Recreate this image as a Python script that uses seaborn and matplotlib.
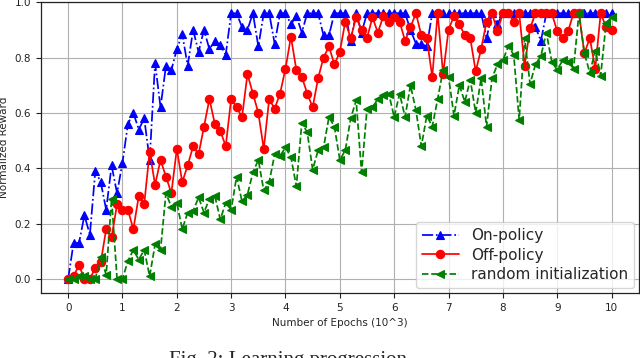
import numpy as np
import pandas as pd
import matplotlib
matplotlib.use("Agg")
import matplotlib.pyplot as plt
import seaborn as sns

# epochs (x 10^3), one point every 100 epochs
epochs = np.round(np.arange(0, 101) * 0.1, 1)

on_policy = [
    0.00, 0.13, 0.13, 0.23, 0.16, 0.39, 0.35, 0.25, 0.41, 0.31,
    0.42, 0.56, 0.60, 0.54, 0.58, 0.43, 0.78, 0.62, 0.77, 0.755,
    0.83, 0.885, 0.77, 0.90, 0.82, 0.90, 0.83, 0.86, 0.845, 0.81,
    0.96, 0.96, 0.91, 0.90, 0.96, 0.84, 0.96, 0.96, 0.85, 0.96,
    0.96, 0.92, 0.95, 0.89, 0.96, 0.96, 0.96, 0.88, 0.88, 0.96,
    0.96, 0.96, 0.86, 0.96, 0.89, 0.96, 0.96, 0.96, 0.96, 0.96,
    0.96, 0.96, 0.96, 0.90, 0.85, 0.85, 0.84, 0.96, 0.96, 0.96,
    0.96, 0.96, 0.96, 0.96, 0.96, 0.96, 0.96, 0.87, 0.96, 0.92,
    0.96, 0.96, 0.96, 0.96, 0.96, 0.96, 0.91, 0.86, 0.96, 0.96,
    0.96, 0.96, 0.96, 0.96, 0.96, 0.96, 0.96, 0.96, 0.96, 0.96,
    0.96,
]

off_policy = [
    0.00, 0.01, 0.05, 0.00, 0.00, 0.04, 0.06, 0.18, 0.15, 0.27,
    0.25, 0.25, 0.18, 0.30, 0.27, 0.46, 0.34, 0.43, 0.37, 0.31,
    0.47, 0.35, 0.41, 0.48, 0.45, 0.55, 0.65, 0.56, 0.535, 0.48,
    0.65, 0.62, 0.585, 0.74, 0.67, 0.60, 0.47, 0.65, 0.615, 0.67,
    0.76, 0.875, 0.755, 0.73, 0.67, 0.62, 0.725, 0.80, 0.84, 0.775,
    0.82, 0.93, 0.87, 0.945, 0.90, 0.87, 0.945, 0.89, 0.95, 0.93,
    0.945, 0.93, 0.86, 0.91, 0.96, 0.88, 0.87, 0.73, 0.96, 0.74,
    0.90, 0.95, 0.92, 0.88, 0.87, 0.75, 0.83, 0.93, 0.96, 0.895,
    0.96, 0.96, 0.93, 0.96, 0.77, 0.905, 0.96, 0.96, 0.96, 0.96,
    0.895, 0.87, 0.895, 0.96, 0.96, 0.815, 0.87, 0.76, 0.96, 0.91,
    0.90,
]

random_init = [
    0.00, 0.00, 0.01, 0.01, 0.00, 0.00, 0.08, 0.015, 0.29, 0.00,
    0.00, 0.065, 0.105, 0.07, 0.105, 0.01, 0.125, 0.105, 0.31, 0.26,
    0.275, 0.18, 0.24, 0.245, 0.295, 0.24, 0.29, 0.30, 0.215, 0.275,
    0.25, 0.37, 0.28, 0.305, 0.385, 0.43, 0.32, 0.35, 0.45, 0.445,
    0.475, 0.44, 0.335, 0.565, 0.53, 0.395, 0.465, 0.475, 0.585, 0.55,
    0.43, 0.465, 0.58, 0.645, 0.385, 0.615, 0.62, 0.65, 0.665, 0.67,
    0.585, 0.67, 0.585, 0.70, 0.61, 0.48, 0.59, 0.55, 0.65, 0.755,
    0.73, 0.59, 0.70, 0.64, 0.72, 0.60, 0.725, 0.55, 0.725, 0.775,
    0.79, 0.84, 0.81, 0.575, 0.87, 0.705, 0.775, 0.805, 0.89, 0.785,
    0.755, 0.79, 0.785, 0.76, 0.96, 0.815, 0.745, 0.825, 0.735, 0.925,
    0.945,
]

series = [
    ("On-policy", on_policy, "blue", "^", "-."),
    ("Off-policy", off_policy, "red", "o", "-"),
    ("random initialization", random_init, "green", "<", "--"),
]

sns.set_style("ticks")
plt.rcParams['font.family'] = ['DejaVu Sans']

fig = plt.figure(figsize=(6.4, 3.58), dpi=100)
ax = fig.add_axes([0.064, 0.182, 0.934, 0.812])

for name, vals, col, mk, ls in series:
    sns.lineplot(x=epochs, y=vals, ax=ax, color=col, marker=mk, linestyle=ls,
                 linewidth=1.25, markersize=6, markeredgecolor=col,
                 markeredgewidth=0.8, label=name)

ax.set_xlim(-0.5, 10.5)
ax.set_ylim(-0.05, 1.0)
ax.set_xticks(range(0, 11))
ax.set_yticks([0.0, 0.2, 0.4, 0.6, 0.8, 1.0])
ax.set_yticklabels(["0.0", "0.2", "0.4", "0.6", "0.8", "1.0"])
ax.tick_params(labelsize=7.5, length=3.5, width=0.8, colors="#222222")
ax.grid(True, color="#b0b0b0", linewidth=0.8)
for sp in ax.spines.values():
    sp.set_color("#222222")
    sp.set_linewidth(0.9)

ax.set_xlabel("Number of Epochs (10^3)", fontsize=7.5, labelpad=4)
ax.set_ylabel("Normalized Reward", fontsize=7.5, labelpad=4)

ax.legend(loc="lower right", fontsize=11, handlelength=2.4,
          borderaxespad=0.3, labelspacing=0.3)

fig.text(0.45, 0.02, "Fig. 2: Learning progression", ha="center", va="top",
         fontsize=15, family="Liberation Serif")

fig.savefig("out.png", dpi=100)
